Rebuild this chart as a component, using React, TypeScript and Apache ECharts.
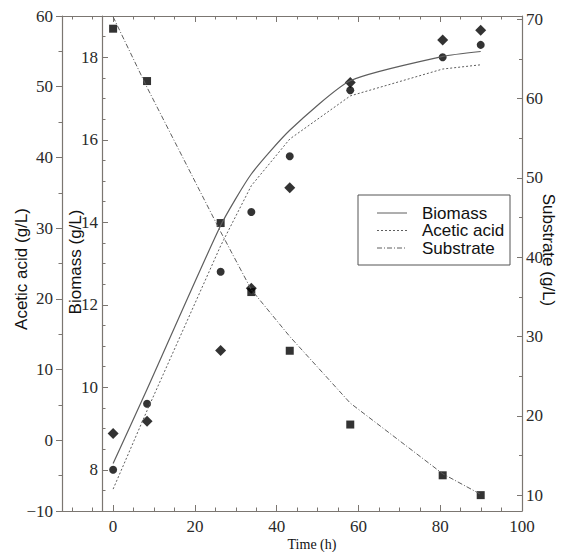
import React, { useEffect, useRef } from "react";
import * as echarts from "echarts";

// ---- data ----
const times = [0, 8.3, 26.3, 33.8, 43.2, 58, 80.6, 89.9];
const biomassObs = [8.0, 9.6, 12.8, 14.25, 15.6, 17.2, 18.0, 18.3];
const aceticObs = [0.95, 2.7, 12.7, 21.5, 35.7, 50.6, 56.6, 58.0];
const substrateObs = [68.8, 62.2, 44.3, 35.6, 28.2, 18.9, 12.5, 10.0];

const biomassModel = [8.15, 9.95, 13.92, 15.17, 16.23, 17.43, 18.02, 18.14];
const aceticModel = [-6.9, 4.2, 27.5, 36.0, 42.6, 48.7, 52.5, 53.1];
const substrateModel = [70.3, 61.4, 43.2, 35.9, 30.0, 21.6, 12.7, 10.1];

// ---- tick labels / tick positions ----
const xMajor = [0, 20, 40, 60, 80, 100];
const xMinor = [-10, -5, 5, 10, 15, 25, 30, 35, 45, 50, 55, 65, 70, 75, 85, 90, 95];
const biomassMajor = [8, 10, 12, 14, 16, 18];
const biomassMinor = [7, 7.5, 8.5, 9, 9.5, 10.5, 11, 11.5, 12.5, 13, 13.5, 14.5, 15, 15.5, 16.5, 17, 17.5, 18.5, 19];
const substrateMajor = [10, 20, 30, 40, 50, 60, 70];
const substrateMinor = [15, 25, 35, 45, 55, 65];
const legendNames = ["Biomass", "Acetic acid", "Substrate"];

const AXIS = "#7b7671";
const LINE = "#5e5e5e";
const MARK = "#000000";
const SERIF = "Liberation Serif";
const SANS = "Liberation Sans";

const zip = (xs: number[], ys: number[]) => xs.map((x, i) => [x, ys[i]]);
const minus = (v: number) => String(v).replace("-", "\u2212");

const labelStyle = { fontFamily: SERIF, fontSize: 17, color: "#2a2a2a" };

export default function App() {
  const ref = useRef<HTMLDivElement>(null);
  useEffect(() => {
    if (!ref.current) return;
    const chart = echarts.init(ref.current, undefined, { renderer: "svg" });
    const dashes = ["solid", [2, 2], [5, 2, 1, 2]];
    const legendGraphics: any[] = [
      {
        type: "rect",
        shape: { x: 358, y: 195, width: 152, height: 70 },
        style: { fill: "#fff", stroke: "#555", lineWidth: 1 },
        z: 10,
      },
    ];
    legendNames.forEach((n, i) => {
      const y = 213 + i * 17.5;
      legendGraphics.push({
        type: "line",
        shape: { x1: 377, y1: y, x2: 407, y2: y },
        style: { stroke: LINE, lineWidth: 1, lineDash: i === 0 ? null : dashes[i] },
        z: 11,
      });
      legendGraphics.push({
        type: "text",
        x: 422,
        y,
        style: { text: n, font: `17px "${SANS}"`, fill: "#111", verticalAlign: "middle", align: "left" },
        z: 11,
      });
    });

    const axisLine = { show: true, onZero: false, lineStyle: { color: AXIS, width: 1.2 } };
    const noLine = { show: false, onZero: false };

    chart.setOption({
      animation: false,
      grid: { left: 62, right: 39, top: 16, bottom: 41 },
      xAxis: [
        {
          type: "value", position: "bottom", min: -12.5, max: 100,
          axisLine, splitLine: { show: false },
          axisTick: { inside: true, length: 6, customValues: xMajor, lineStyle: { color: AXIS } },
          axisLabel: { ...labelStyle, margin: 7, customValues: xMajor },
        },
        {
          type: "value", position: "bottom", min: -12.5, max: 100,
          axisLine: noLine, splitLine: { show: false },
          axisTick: { inside: true, length: 3.5, customValues: xMinor, lineStyle: { color: AXIS } },
          axisLabel: { show: false },
        },
        {
          type: "value", position: "top", min: -12.5, max: 100,
          axisLine, splitLine: { show: false },
          axisTick: { inside: true, length: 6, customValues: xMajor, lineStyle: { color: AXIS } },
          axisLabel: { show: false },
        },
        {
          type: "value", position: "top", min: -12.5, max: 100,
          axisLine: noLine, splitLine: { show: false },
          axisTick: { inside: true, length: 3.5, customValues: xMinor, lineStyle: { color: AXIS } },
          axisLabel: { show: false },
        },
      ],
      yAxis: [
        {
          type: "value", position: "left", min: -10, max: 60, interval: 10,
          axisLine, splitLine: { show: false },
          axisTick: { show: true, inside: false, length: 6, lineStyle: { color: AXIS } },
          minorTick: { show: true, splitNumber: 2, length: 3.5, lineStyle: { color: AXIS } },
          axisLabel: { ...labelStyle, margin: 9, formatter: (v: number) => minus(v) },
        },
        {
          type: "value", position: "left", offset: -40, min: 7, max: 19,
          axisLine, splitLine: { show: false },
          axisTick: { show: true, inside: true, length: 6, customValues: biomassMajor, lineStyle: { color: AXIS } },
          axisLabel: { ...labelStyle, margin: 4, customValues: biomassMajor },
        },
        {
          type: "value", position: "left", offset: -40, min: 7, max: 19,
          axisLine: noLine, splitLine: { show: false },
          axisTick: { show: true, inside: true, length: 3.5, customValues: biomassMinor, lineStyle: { color: AXIS } },
          axisLabel: { show: false },
        },
        {
          type: "value", position: "right", min: 8, max: 70.4,
          axisLine, splitLine: { show: false },
          axisTick: { show: true, inside: true, length: 5, customValues: substrateMajor, lineStyle: { color: AXIS } },
          axisLabel: { ...labelStyle, margin: 4, customValues: substrateMajor },
        },
        {
          type: "value", position: "right", min: 8, max: 70.4,
          axisLine: noLine, splitLine: { show: false },
          axisTick: { show: true, inside: true, length: 3, customValues: substrateMinor, lineStyle: { color: AXIS } },
          axisLabel: { show: false },
        },
      ],
      series: [
        {
          name: "Biomass", type: "line", xAxisIndex: 0, yAxisIndex: 1, smooth: 0.2,
          data: zip(times, biomassModel), symbol: "none",
          lineStyle: { color: LINE, width: 1.2, type: "solid" },
        },
        {
          name: "Acetic acid", type: "line", xAxisIndex: 0, yAxisIndex: 0,
          data: zip(times, aceticModel), symbol: "none",
          lineStyle: { color: LINE, width: 1, type: [2, 2] },
        },
        {
          name: "Substrate", type: "line", xAxisIndex: 0, yAxisIndex: 3,
          data: zip(times, substrateModel), symbol: "none",
          lineStyle: { color: LINE, width: 1, type: [5, 2, 1, 2] },
        },
        {
          name: "Biomass data", type: "scatter", xAxisIndex: 0, yAxisIndex: 1,
          data: zip(times, biomassObs), symbol: "circle", symbolSize: 8,
          itemStyle: { color: MARK },
        },
        {
          name: "Acetic acid data", type: "scatter", xAxisIndex: 0, yAxisIndex: 0,
          data: zip(times, aceticObs), symbol: "diamond", symbolSize: 11,
          itemStyle: { color: MARK },
        },
        {
          name: "Substrate data", type: "scatter", xAxisIndex: 0, yAxisIndex: 3,
          data: zip(times, substrateObs), symbol: "rect", symbolSize: 8,
          itemStyle: { color: MARK },
        },
      ],
      graphic: [
        ...legendGraphics,
        {
          type: "text", x: 21, y: 269, rotation: Math.PI / 2,
          style: { text: "Acetic acid (g/L)", font: `17px "${SANS}"`, fill: "#111", align: "center", verticalAlign: "middle" },
        },
        {
          type: "text", x: 75, y: 262, rotation: Math.PI / 2,
          style: { text: "Biomass (g/L)", font: `17px "${SANS}"`, fill: "#111", align: "center", verticalAlign: "middle" },
        },
        {
          type: "text", x: 548, y: 250, rotation: -Math.PI / 2,
          style: { text: "Substrate (g/L)", font: `17px "${SANS}"`, fill: "#111", align: "center", verticalAlign: "middle" },
        },
        {
          type: "text", x: 312, y: 544,
          style: { text: "Time (h)", font: `14px "${SERIF}"`, fill: "#111", align: "center", verticalAlign: "middle" },
        },
      ],
    });
    return () => chart.dispose();
  }, []);
  return (
    <div
      ref={ref}
      style={{ position: "absolute", left: 0, top: 0, width: 561, height: 552, background: "#fff" }}
    />
  );
}
